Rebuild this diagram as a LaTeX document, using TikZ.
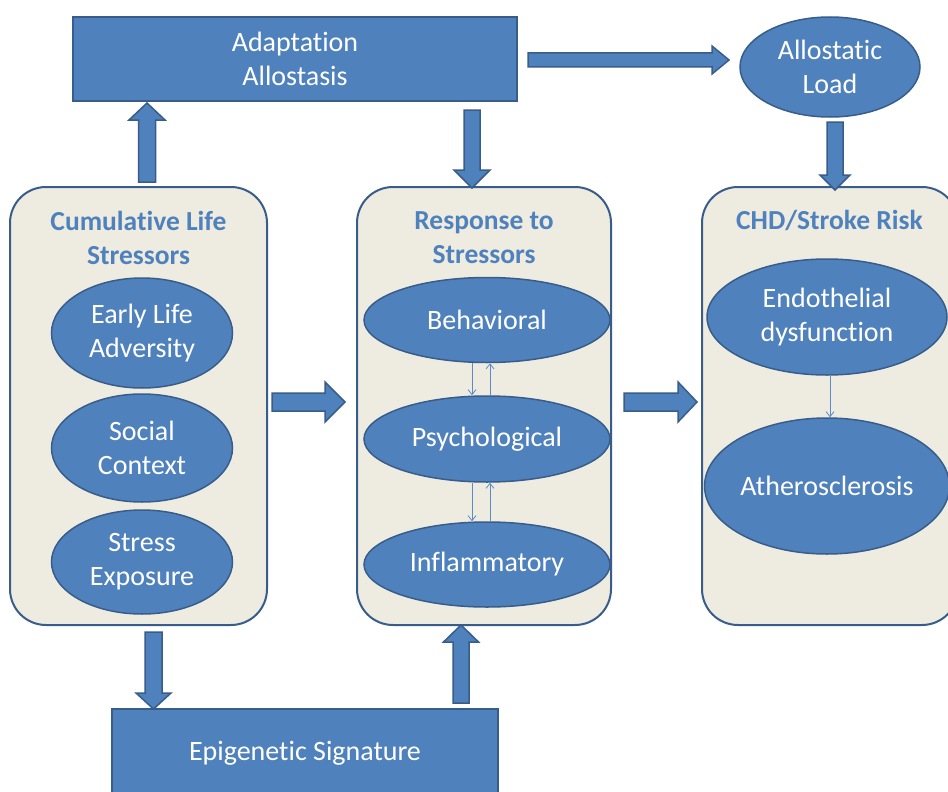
\documentclass[tikz,border=0pt]{standalone}
\usepackage{fontspec}
\setmainfont{Carlito}[Ligatures=NoCommon]
\usetikzlibrary{shapes.geometric,arrows.meta,calc}
\definecolor{accent}{HTML}{4F81BD}
\definecolor{edgeblue}{HTML}{385D8A}
\definecolor{panelbg}{HTML}{EEECE1}
\definecolor{thinblue}{HTML}{5B8AC4}
\tikzset{
  base/.style={font=\fontsize{28}{34}\selectfont, align=center, inner sep=0pt},
  bluebox/.style={base, rectangle, fill=accent, draw=edgeblue, line width=1.5pt, text=white},
  blueoval/.style={base, ellipse, fill=accent, draw=edgeblue, line width=1.5pt, text=white},
  panel/.style={rectangle, rounded corners=36pt, fill=panelbg, draw=edgeblue, line width=2pt, minimum height=438pt, inner sep=0pt},
  paneltitle/.style={base, text=accent, font=\fontsize{27.5}{34}\selectfont\bfseries},
  blockarrow/.style={fill=accent, draw=edgeblue, line width=1.5pt, line join=miter},
  thinarrow/.style={draw=thinblue, line width=0.8pt, -{Straight Barb[length=5pt,width=8pt]}}
}
\newcommand\vblock[6]{\draw[blockarrow] ({#1-#5},#2) -- ({#1-#5},#3) -- ({#1-#6},#3) -- (#1,#4) -- ({#1+#6},#3) -- ({#1+#5},#3) -- ({#1+#5},#2) -- cycle;}
\newcommand\hblock[6]{\draw[blockarrow] (#2,{#1-#5}) -- (#3,{#1-#5}) -- (#3,{#1-#6}) -- (#4,#1) -- (#3,{#1+#6}) -- (#3,{#1+#5}) -- (#2,{#1+#5}) -- cycle;}
\begin{document}
\begin{tikzpicture}[x=1pt, y=-1pt]
\useasboundingbox (0,0) rectangle (948,792);
\fill[white] (0,0) rectangle (948,792);

% top row
\node[bluebox, minimum width=444pt, minimum height=84pt] (adapt) at (295,59) {Adaptation\\Allostasis};
\node[blueoval, minimum width=180pt, minimum height=100pt] (allo) at (830,67) {Allostatic\\Load};

% panels
\node[panel, minimum width=257pt] (left) at (138.5,406) {};
\node[panel, minimum width=254pt] (mid) at (484,406) {};
\node[panel, minimum width=256pt] (right) at (830,406) {};

\node[paneltitle] (lt) at (138.5,238) {Cumulative Life\\Stressors};
\node[paneltitle] (mt) at (484,238) {Response to\\Stressors};
\node[paneltitle] (rt) at (829.5,220) {CHD/Stroke Risk};

% left ellipses
\node[blueoval, minimum width=181pt, minimum height=110pt] (early) at (142,333) {Early Life\\Adversity};
\node[blueoval, minimum width=181pt, minimum height=108pt] (social) at (142,448) {Social\\Context};
\node[blueoval, minimum width=181pt, minimum height=104pt] (stress) at (142,562) {Stress\\Exposure};

% middle ellipses
\node[blueoval, minimum width=246pt, minimum height=85pt] (behav) at (487,320) {Behavioral};
\node[blueoval, minimum width=246pt, minimum height=86pt] (psych) at (487,439) {Psychological};
\node[blueoval, minimum width=246pt, minimum height=85pt] (inflam) at (487,564.5) {Inflammatory};

% right ellipses
\node[blueoval, minimum width=240pt, minimum height=116pt] (endo) at (827,317) {Endothelial\\dysfunction};
\node[blueoval, minimum width=240pt, minimum height=136pt] (ather) at (827,486) {Atherosclerosis};

% bottom box
\node[bluebox, minimum width=386pt, minimum height=88pt] (epi) at (305,753) {Epigenetic Signature};

% thin arrows
\draw[thinarrow] ($(behav.south)+(-15,0)$) -- ($(psych.north)+(-15,0)$);
\draw[thinarrow] ($(psych.north)+(3,0)$) -- ($(behav.south)+(3,0)$);
\draw[thinarrow] ($(psych.south)+(-15,0)$) -- ($(inflam.north)+(-15,0)$);
\draw[thinarrow] ($(inflam.north)+(3,0)$) -- ($(psych.south)+(3,0)$);
\draw[thinarrow] ($(endo.south)+(3,0)$) -- ($(ather.north)+(3,0)$);

% block arrows
\vblock{147}{182}{120}{103}{8.5}{18}
\vblock{472}{110}{170}{188}{8}{18}
\hblock{60}{528}{712}{729}{7}{14}
\vblock{835}{122}{175}{190}{8}{15}
\hblock{402}{272}{325}{345}{9}{20}
\hblock{402}{624}{678}{697}{9}{20}
\vblock{153.5}{632}{693}{709}{8.5}{17.5}
\vblock{461}{703}{642}{625}{8}{17.5}
\end{tikzpicture}
\end{document}
